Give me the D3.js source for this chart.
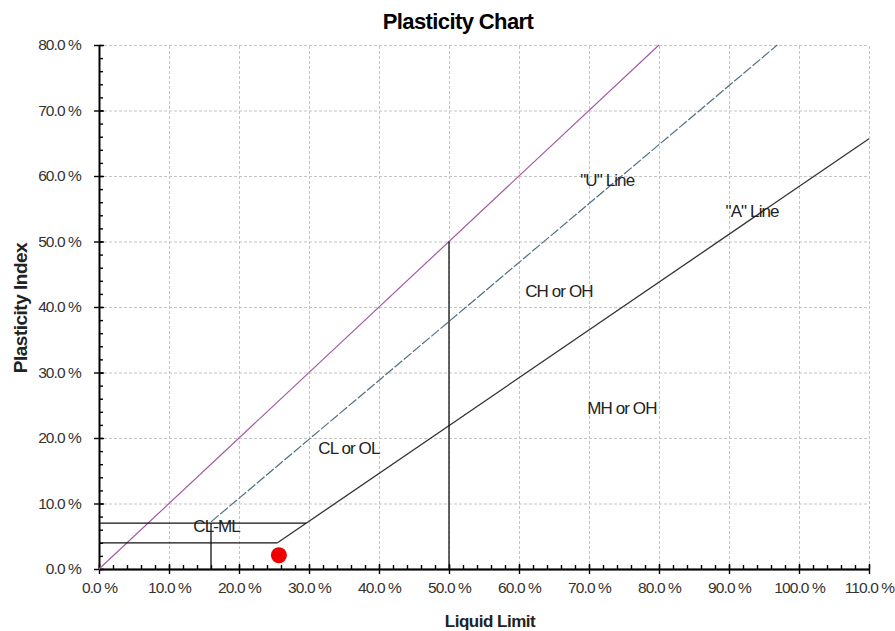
<!DOCTYPE html>
<html>
<head>
<meta charset="utf-8">
<script src="https://cdn.jsdelivr.net/npm/d3@7"></script>
<style>
  body { margin: 0; background: #fff; }
  svg { font-family: "Liberation Sans", Arial, sans-serif; }
  .grid line { stroke: #c4c4c4; stroke-dasharray: 3,2; }
  .grid path { display: none; }
  .axis path, .axis line { stroke: #000; stroke-width: 1.4; }
  .axis text { font-size: 15.5px; fill: #333; letter-spacing: -0.9px; }
  .note { font-size: 17px; fill: #222; letter-spacing: -0.9px; }
</style>
</head>
<body>
<figure id="chart" style="margin:0"></figure>
<script>
// axis ticks (percent)
const xMajor = [0, 10, 20, 30, 40, 50, 60, 70, 80, 90, 100, 110];
const yMajor = [0, 10, 20, 30, 40, 50, 60, 70, 80];
const xMinor = d3.range(0, 111, 2);
const yMinor = d3.range(0, 81, 2);

// chart lines as [liquid limit, plasticity index]
const diagonalLine = [[0, 0], [80, 80]];
const uLine = [[16, 7.2], [96.9, 80]];
const aLine = [[25.5, 4], [110, 65.7]];
const clmlTop = [[0, 7], [29.6, 7]];
const clmlBottom = [[0, 4], [25.5, 4]];
const clmlDivider = [[16, 0], [16, 7]];
const lowHighDivider = [[50, 0], [50, 50]];

// sample result
const samplePoint = [25.7, 2.1];

// zone labels
const noteText = ['"U" Line', '"A" Line', 'CH or OH', 'MH or OH', 'CL or OL', 'CL-ML'];
const noteLL = [72.6, 93.3, 65.7, 74.7, 35.7, 16.8];
const notePI = [58.5, 53.8, 41.5, 23.6, 17.5, 5.6];

const W = 895, H = 631;
const plotLeft = 99, plotRight = 869, plotTop = 45, plotBottom = 569;

const svg = d3.select("#chart").append("svg")
  .attr("width", W)
  .attr("height", H);

const x = d3.scaleLinear().domain([0, 110]).range([plotLeft, plotRight]);
const y = d3.scaleLinear().domain([0, 80]).range([plotBottom, plotTop]);

// gridlines
svg.append("g")
  .attr("class", "grid")
  .attr("transform", "translate(0," + plotBottom + ")")
  .call(d3.axisBottom(x).tickValues(xMajor.slice(1)).tickSize(-(plotBottom - plotTop)).tickFormat(""));
svg.append("g")
  .attr("class", "grid")
  .attr("transform", "translate(" + plotLeft + ",0)")
  .call(d3.axisLeft(y).tickValues(yMajor.slice(1)).tickSize(-(plotRight - plotLeft)).tickFormat(""));

const fmt = d => d.toFixed(1) + " %";

// x axis: minor inside, major crossing
svg.append("g").attr("class", "axis")
  .attr("transform", "translate(0," + plotBottom + ")")
  .call(d3.axisBottom(x).tickValues(xMinor).tickSize(-4).tickSizeOuter(0).tickFormat(""));
svg.append("g").attr("class", "axis")
  .attr("transform", "translate(0," + plotBottom + ")")
  .call(d3.axisBottom(x).tickValues(xMajor).tickSize(-5).tickSizeOuter(0).tickFormat(""));
svg.append("g").attr("class", "axis")
  .attr("transform", "translate(0," + plotBottom + ")")
  .call(d3.axisBottom(x).tickValues(xMajor).tickSize(5).tickSizeOuter(0).tickPadding(8).tickFormat(fmt));

// y axis
svg.append("g").attr("class", "axis")
  .attr("transform", "translate(" + plotLeft + ",0)")
  .call(d3.axisLeft(y).tickValues(yMinor).tickSize(-4).tickSizeOuter(0).tickFormat(""));
svg.append("g").attr("class", "axis")
  .attr("transform", "translate(" + plotLeft + ",0)")
  .call(d3.axisLeft(y).tickValues(yMajor).tickSize(-5).tickSizeOuter(0).tickFormat(""));
svg.append("g").attr("class", "axis")
  .attr("transform", "translate(" + plotLeft + ",0)")
  .call(d3.axisLeft(y).tickValues(yMajor).tickSize(5).tickSizeOuter(0).tickPadding(13).tickFormat(fmt));

const line = d3.line().x(d => x(d[0])).y(d => y(d[1]));

function drawLine(data, color, width, dash) {
  svg.append("path")
    .datum(data)
    .attr("d", line)
    .attr("fill", "none")
    .attr("stroke", color)
    .attr("stroke-width", width)
    .attr("stroke-dasharray", dash);
}

drawLine(diagonalLine, "#a35aa3", 1.2, null);
drawLine(uLine, "#4f6f80", 1.2, "10,2");
drawLine(aLine, "#333", 1.3, null);
drawLine(clmlTop, "#111", 1.3, null);
drawLine(clmlBottom, "#111", 1.3, null);
drawLine(clmlDivider, "#111", 1.3, null);
drawLine(lowHighDivider, "#111", 1.3, null);

// zone labels
svg.selectAll(".note")
  .data(noteText)
  .enter()
  .append("text")
  .attr("class", "note")
  .attr("x", (d, i) => x(noteLL[i]))
  .attr("y", (d, i) => y(notePI[i]))
  .attr("text-anchor", "middle")
  .text(d => d);

// sample point
svg.append("circle")
  .attr("cx", x(samplePoint[0]))
  .attr("cy", y(samplePoint[1]))
  .attr("r", 8)
  .attr("fill", "#ee0000");

// titles
svg.append("text")
  .attr("x", 458).attr("y", 29)
  .attr("text-anchor", "middle")
  .style("font-size", "22px").style("font-weight", "bold")
  .style("letter-spacing", "-0.6px")
  .text("Plasticity Chart");

svg.append("text")
  .attr("x", 490).attr("y", 627)
  .attr("text-anchor", "middle")
  .style("font-size", "17px").style("font-weight", "bold")
  .style("letter-spacing", "-0.5px")
  .style("fill", "#222")
  .text("Liquid Limit");

svg.append("text")
  .attr("transform", "translate(27,308) rotate(-90)")
  .attr("text-anchor", "middle")
  .style("font-size", "19px").style("font-weight", "bold")
  .style("letter-spacing", "-0.5px")
  .style("fill", "#222")
  .text("Plasticity Index");
</script>
</body>
</html>
